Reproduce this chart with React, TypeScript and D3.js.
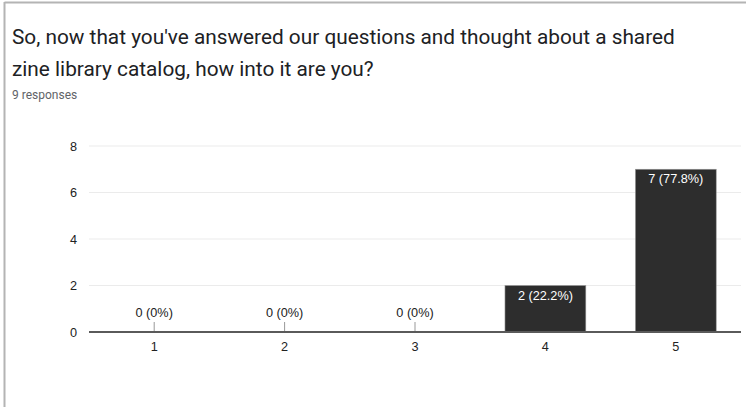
import { useEffect, useRef } from 'react';
import * as d3 from 'd3';

const categories = ['1', '2', '3', '4', '5'];
const counts = [0, 0, 0, 2, 7];
const percents = ['0%', '0%', '0%', '22.2%', '77.8%'];
const yTicks = [0, 2, 4, 6, 8];
const titleLines = [
  "So, now that you've answered our questions and thought about a shared",
  'zine library catalog, how into it are you?',
];
const subtitle = '9 responses';

const W = 746;
const H = 407;

export default function App() {
  const svgRef = useRef<SVGSVGElement>(null);

  useEffect(() => {
    if (!svgRef.current) return;
    const svg = d3.select(svgRef.current);
    svg.selectAll('*').remove();

    // card frame (only top and left edges are visible)
    svg.append('line').attr('x1', 4.5).attr('x2', W).attr('y1', 2.5).attr('y2', 2.5)
      .attr('stroke', '#b4b4b4').attr('stroke-width', 2);
    svg.append('line').attr('x1', 4.5).attr('x2', 4.5).attr('y1', 2).attr('y2', H)
      .attr('stroke', '#b4b4b4').attr('stroke-width', 2);

    // title
    svg.selectAll('.title')
      .data(titleLines)
      .enter()
      .append('text')
      .attr('class', 'title')
      .attr('x', 12)
      .attr('y', (_d, i) => 44 + i * 32)
      .style('font-family', 'Roboto, sans-serif')
      .style('font-size', '20.8px')
      .style('fill', '#202124')
      .text(d => d);

    svg.append('text')
      .attr('x', 12)
      .attr('y', 99)
      .style('font-family', 'Roboto, sans-serif')
      .style('font-size', '12px')
      .style('fill', '#5f6368')
      .text(subtitle);

    const left = 89, right = 741, top = 146, bottom = 332;

    const x = d3.scaleBand<string>()
      .domain(categories)
      .range([left, right])
      .paddingInner(0.38)
      .paddingOuter(0.19);

    const y = d3.scaleLinear().domain([0, 8]).range([bottom, top]);

    const font = 'Arial, "Liberation Sans", sans-serif';
    const fs = '12.7px';

    // gridlines
    svg.selectAll('.grid')
      .data(yTicks.filter(t => t > 0))
      .enter()
      .append('line')
      .attr('x1', left).attr('x2', right)
      .attr('y1', d => y(d)).attr('y2', d => y(d))
      .attr('stroke', '#ebebeb').attr('stroke-width', 1);

    // y tick labels
    svg.selectAll('.ylab')
      .data(yTicks)
      .enter()
      .append('text')
      .attr('x', 77)
      .attr('y', d => y(d) + 4.5)
      .attr('text-anchor', 'end')
      .style('font-family', font)
      .style('font-size', fs)
      .style('fill', '#222')
      .text(d => d);

    // bars
    const data = categories.map((c, i) => ({ c, v: counts[i], p: percents[i] }));

    svg.selectAll('.bar')
      .data(data.filter(d => d.v > 0))
      .enter()
      .append('rect')
      .attr('x', d => x(d.c)!)
      .attr('y', d => y(d.v))
      .attr('width', x.bandwidth())
      .attr('height', d => y(0) - y(d.v))
      .attr('fill', '#2d2d2d')
      .attr('stroke', '#9a9a9a')
      .attr('stroke-width', 0.6);

    // zero value stems
    svg.selectAll('.stem')
      .data(data.filter(d => d.v === 0))
      .enter()
      .append('line')
      .attr('x1', d => x(d.c)! + x.bandwidth() / 2)
      .attr('x2', d => x(d.c)! + x.bandwidth() / 2)
      .attr('y1', y(0) - 10)
      .attr('y2', y(0))
      .attr('stroke', '#999')
      .attr('stroke-width', 1);

    // value labels
    svg.selectAll('.vlab')
      .data(data)
      .enter()
      .append('text')
      .attr('x', d => x(d.c)! + x.bandwidth() / 2)
      .attr('y', d => (d.v > 0 ? y(d.v) + 14 : y(0) - 15))
      .attr('text-anchor', 'middle')
      .style('font-family', font)
      .style('font-size', fs)
      .style('fill', d => (d.v > 0 ? '#ffffff' : '#222'))
      .text(d => `${d.v} (${d.p})`);

    // baseline axis
    svg.append('line')
      .attr('x1', left).attr('x2', right)
      .attr('y1', y(0)).attr('y2', y(0))
      .attr('stroke', '#5a5a5a').attr('stroke-width', 2);

    // x tick labels
    svg.selectAll('.xlab')
      .data(categories)
      .enter()
      .append('text')
      .attr('x', d => x(d)! + x.bandwidth() / 2)
      .attr('y', bottom + 19)
      .attr('text-anchor', 'middle')
      .style('font-family', font)
      .style('font-size', fs)
      .style('fill', '#222')
      .text(d => d);
  }, []);

  return (
    <div style={{ position: 'fixed', left: 0, top: 0, background: '#fff' }}>
      <svg ref={svgRef} width={W} height={H} style={{ display: 'block' }} />
    </div>
  );
}
